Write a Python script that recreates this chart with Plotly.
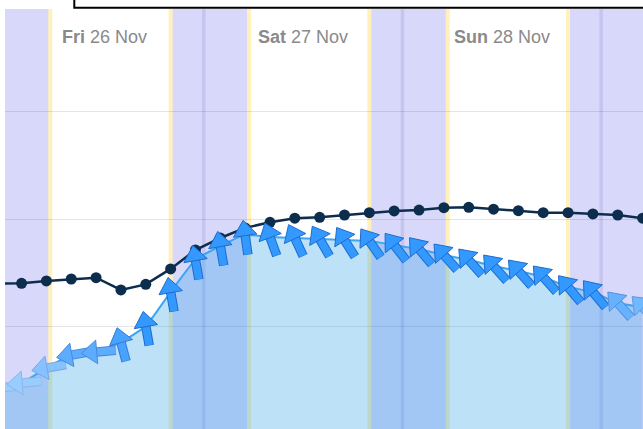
import plotly.graph_objects as go
import pandas as pd

# ---------------- data ----------------
times = pd.date_range("2021-11-25 23:00", periods=27, freq="3h")

temperature = [17.0, 17.02, 17.13, 17.22, 17.28, 16.71, 16.97, 17.69, 18.57, 19.13,
               19.6, 19.86, 20.05, 20.09, 20.2, 20.31, 20.39, 20.43, 20.54, 20.56,
               20.47, 20.4, 20.31, 20.31, 20.25, 20.2, 20.05]

wind_speed = [4.1, 4.6, 6.1, 7.4, 7.7, 8.7, 10.3, 13.7, 16.9, 18.3,
              19.4, 19.2, 19.1, 19.0, 18.9, 18.8, 18.4, 18.0, 17.4, 16.9,
              16.3, 15.8, 15.2, 14.2, 13.7, 12.6, 12.2]

wind_direction = [-95, -95, -100, -100, -95, -15, -10, -10, -10, -10,
                  -8, -20, -25, -30, -32, -35, -38, -40, -42, -42,
                  -42, -42, -42, -40, -40, -42, -45]

arrow_shade = [0.5, 0.5, 0.6, 0.8, 0.8, 0.9, 1, 1, 1, 1,
               1, 1, 1, 1, 1, 1, 1, 1, 1, 1,
               1, 1, 1, 1, 1, 0.75, 0.7]

day_dates = ["2021-11-26", "2021-11-27", "2021-11-28"]
day_labels = ["<b>Fri</b> 26 Nov", "<b>Sat</b> 27 Nov", "<b>Sun</b> 28 Nov"]
sunrise = "05:28"
sunset = "20:00"
midnights = ["2021-11-27", "2021-11-28", "2021-11-29"]

x_start = "2021-11-26 00:00"
x_end = "2021-11-29 05:03"

# ---------------- styles ----------------
W, H = 643, 429
ML, MT = 5, 9
plot_h = H - MT


def mix(c, s, base=(255, 255, 255)):
    return "rgb(%d,%d,%d)" % tuple(round(b + s * (ci - b)) for ci, b in zip(c, base))


fill_full = (51, 153, 255)
edge_full = (30, 108, 205)
arrow_fill = [mix(fill_full, s) for s in arrow_shade]
arrow_edge = [mix(edge_full, s) for s in arrow_shade]

fig = go.Figure()

# wind area
fig.add_trace(go.Scatter(
    x=times, y=wind_speed, yaxis="y2", mode="lines",
    line=dict(color="#3ea5f2", width=2, shape="spline", smoothing=0.5),
    fill="tozeroy", fillcolor="rgba(37,158,231,0.3)", hoverinfo="skip"))

# temperature
fig.add_trace(go.Scatter(
    x=times, y=temperature, mode="lines+markers",
    line=dict(color="#0c2d4d", width=2.5),
    marker=dict(size=11, color="#0c2d4d"), hoverinfo="skip"))

# wind arrows: shaft outline, shaft, head
fig.add_trace(go.Scatter(
    x=times, y=wind_speed, yaxis="y2", mode="markers",
    marker=dict(symbol="line-ns", size=15.5, angle=wind_direction, standoff=9,
                color=arrow_edge, line=dict(width=9.5, color=arrow_edge)),
    hoverinfo="skip"))
fig.add_trace(go.Scatter(
    x=times, y=wind_speed, yaxis="y2", mode="markers",
    marker=dict(symbol="line-ns", size=15, angle=wind_direction, standoff=9,
                color=arrow_fill, line=dict(width=7.5, color=arrow_fill)),
    hoverinfo="skip"))
fig.add_trace(go.Scatter(
    x=times, y=wind_speed, yaxis="y2", mode="markers",
    marker=dict(symbol="triangle-down", size=20.5,
                angle=[d + 180 for d in wind_direction], standoff=4.5,
                color=arrow_fill, line=dict(width=1, color=arrow_edge)),
    hoverinfo="skip"))

shapes = []
night_color = "rgb(216,216,251)"
# night bands
edges = [x_start]
for d in day_dates:
    edges += [f"{d} {sunrise}", f"{d} {sunset}"]
edges.append(x_end)
for i in range(0, len(edges), 2):
    shapes.append(dict(type="rect", xref="x", yref="paper", x0=edges[i], x1=edges[i + 1],
                       y0=0, y1=1, fillcolor=night_color, line=dict(width=0), layer="below"))
# sunrise / sunset lines
for d in day_dates:
    for tm in (sunrise, sunset):
        shapes.append(dict(type="line", xref="x", yref="paper", x0=f"{d} {tm}", x1=f"{d} {tm}",
                           y0=0, y1=1, line=dict(color="rgb(255,240,188)", width=4), layer="below"))
# midnight lines
for m in midnights:
    shapes.append(dict(type="line", xref="x", yref="paper", x0=m, x1=m, y0=0, y1=1,
                       line=dict(color="rgba(110,110,190,0.18)", width=3.5), layer="below"))


def py(p):
    return (H - p) / plot_h


def px(p):
    return (p - ML) / (W - ML)


# black box at top
shapes.append(dict(type="rect", xref="paper", yref="paper", x0=px(74.3), x1=px(700),
                   y0=py(7.7), y1=py(-40), line=dict(color="black", width=2),
                   fillcolor="rgba(0,0,0,0)", layer="above"))

annotations = []
for d, lab in zip(day_dates, day_labels):
    annotations.append(dict(x=f"{d} 12:00", y=py(37.5), xref="x", yref="paper",
                            text=lab, showarrow=False, xanchor="center", yanchor="middle",
                            font=dict(family="Liberation Sans, Arial, sans-serif", size=18,
                                      color="#8a8a8a")))

fig.update_layout(
    width=W, height=H,
    margin=dict(l=ML, r=0, t=MT, b=0, pad=0),
    paper_bgcolor="white", plot_bgcolor="white",
    showlegend=False,
    shapes=shapes, annotations=annotations,
    xaxis=dict(range=[x_start, x_end], showgrid=False, zeroline=False,
               showticklabels=False, ticks="", showline=False),
    yaxis=dict(range=[10.233, 29.795], tick0=0, dtick=5, showgrid=True,
               gridcolor="rgba(0,0,0,0.1)", gridwidth=1, zeroline=False,
               showticklabels=False, ticks="", showline=False),
    yaxis2=dict(range=[0, 42], overlaying="y", showgrid=False, zeroline=False,
                showticklabels=False, ticks="", showline=False),
)

fig.write_html("out.html", config={"displayModeBar": False},
               post_script="document.body.style.margin='0';document.body.style.overflow='hidden';")
